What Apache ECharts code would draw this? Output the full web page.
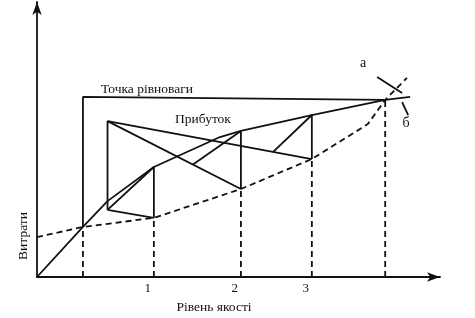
<!DOCTYPE html>
<html><head><meta charset="utf-8">
<script src="https://cdn.jsdelivr.net/npm/echarts@6/dist/echarts.min.js"></script>
<style>html,body{margin:0;padding:0;background:#fff}#c{width:475px;height:318px}</style>
</head><body><div id="c"></div>
<script>
// Curve "а" (dashed): costs
const curveAX = [0, 11.4, 29.0, 50.6, 68.2, 82.1, 86.4, 91.8];
const curveAY = [14.5, 18.2, 21.5, 32.0, 42.9, 55.6, 64.4, 72.4];
// Curve "б" (solid)
const curveBX = [0, 11.4, 17.5, 29.0, 45.4, 50.6, 68.2, 86.4, 92.6];
const curveBY = [0, 18.2, 27.6, 40.0, 50.9, 53.1, 58.9, 64.4, 65.5];
// Equilibrium bracket
const bracketX = [11.4, 11.4, 86.4];
const bracketY = [18.2, 65.5, 64.4];
// Dashed drop lines
const dropX = [11.4, 29.0, 50.6, 68.2, 86.4];
const dropTop = [18.2, 21.5, 32.0, 42.9, 64.4];
// Construction segments [x1,y1,x2,y2]
const constructionSegments = [
  [17.5, 56.7, 17.5, 24.4],
  [17.5, 56.7, 50.6, 32.0],
  [17.5, 56.7, 68.2, 42.9],
  [17.5, 24.4, 29.0, 21.5],
  [17.5, 24.4, 29.0, 40.0],
  [29.0, 21.5, 29.0, 40.0],
  [38.7, 40.9, 50.6, 53.1],
  [50.6, 32.0, 50.6, 53.1],
  [58.6, 45.5, 68.2, 58.9],
  [68.2, 42.9, 68.2, 58.9]
];
// Leader ticks for labels а / б
const leaderA = [84.4, 72.7, 90.6, 66.9];
const leaderB = [90.6, 63.6, 92.1, 58.9];
// x tick labels
const tickPositions = [27.5, 49.1, 66.7];
const tickLabels = ['1', '2', '3'];

const INK = '#111';
const FONT = '"Liberation Serif", "DejaVu Serif", serif';
const zip = (xs, ys) => xs.map((x, i) => [x, ys[i]]);
const lineSeries = (data, dashed) => ({
  type: 'line', data, symbol: 'none', silent: true, animation: false,
  lineStyle: { color: INK, width: 1.8, type: dashed ? [6, 4] : 'solid' }
});

const series = [];
series.push(lineSeries(zip(curveAX, curveAY), true));
series.push(lineSeries(zip(curveBX, curveBY), false));
series.push(lineSeries(zip(bracketX, bracketY), false));
dropX.forEach((x, i) => series.push(lineSeries([[x, 0], [x, dropTop[i]]], true)));
constructionSegments.forEach(s => series.push(lineSeries([[s[0], s[1]], [s[2], s[3]]], false)));
[leaderA, leaderB].forEach(s => series.push(lineSeries([[s[0], s[1]], [s[2], s[3]]], false)));

const chart = echarts.init(document.getElementById('c'), null, { renderer: 'canvas' });
const txt = (x, y, t, size, extra) => Object.assign({
  type: 'text', x, y,
  style: { text: t, font: size + 'px ' + FONT, fill: INK, align: 'center', verticalAlign: 'middle' }
}, extra || {});
chart.setOption({
  backgroundColor: '#fff',
  animation: false,
  grid: { left: 37, right: 35, top: 2, bottom: 41 },
  xAxis: {
    type: 'value', min: 0, max: 100,
    splitLine: { show: false },
    axisTick: { show: false },
    axisLine: { lineStyle: { color: INK, width: 1.8 }, symbol: ['none', 'arrow'], symbolSize: [7, 13] },
    axisLabel: {
      customValues: tickPositions,
      margin: 5,
      color: INK, fontSize: 13, fontFamily: FONT,
      formatter: v => { const i = tickPositions.indexOf(v); return i >= 0 ? tickLabels[i] : ''; }
    }
  },
  yAxis: {
    type: 'value', min: 0, max: 100,
    splitLine: { show: false },
    axisTick: { show: false },
    axisLabel: { show: false },
    axisLine: { lineStyle: { color: INK, width: 1.8 }, symbol: ['none', 'arrow'], symbolSize: [7, 13] }
  },
  series,
  graphic: [
    txt(147, 89, 'Точка рівноваги', 13.5),
    txt(203, 119, 'Прибуток', 13.5),
    txt(363, 63, 'а', 14),
    txt(406, 123, 'б', 14),
    txt(214, 307, 'Рівень якості', 13.5),
    txt(23, 236, 'Витрати', 13.5, { rotation: Math.PI / 2 })
  ]
});
</script></body></html>
